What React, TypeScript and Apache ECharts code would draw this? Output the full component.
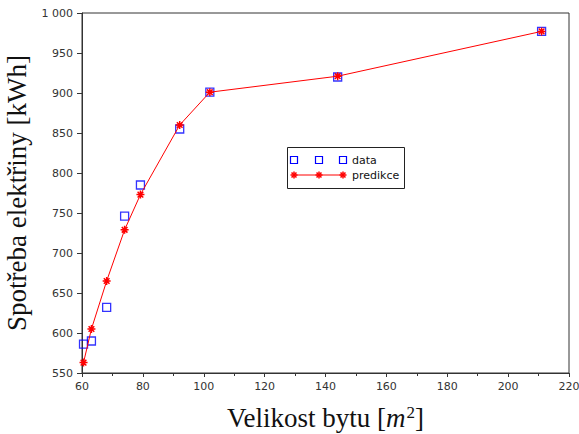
import React, { useEffect, useRef } from "react";
import * as echarts from "echarts";

const areaX = [60.5, 63.1, 68.1, 74.0, 79.2, 92.1, 102.0, 144.0, 211.0];
const dataY = [586, 590, 632, 746, 785, 855, 901, 920, 977];
const predY = [563, 605, 665, 729, 773, 860, 901, 921, 977];
const seriesNames = ["data", "predikce"];
const xTitle = "Velikost bytu";
const yTitle = "Spotřeba elektřiny [kWh]";

const STAR = "path://M0,-1L0,1M-1,0L1,0M-0.71,-0.71L0.71,0.71M-0.71,0.71L0.71,-0.71";

function starGraphic(cx: number, cy: number, r: number) {
  const d = r * 0.71;
  const segs = [
    [cx, cy - r, cx, cy + r],
    [cx - r, cy, cx + r, cy],
    [cx - d, cy - d, cx + d, cy + d],
    [cx - d, cy + d, cx + d, cy - d],
  ];
  return segs.map((s) => ({
    type: "line",
    shape: { x1: s[0], y1: s[1], x2: s[2], y2: s[3] },
    style: { stroke: "#ff0000", lineWidth: 1.5 },
  }));
}

export default function App() {
  const ref = useRef<HTMLDivElement>(null);
  useEffect(() => {
    if (!ref.current) return;
    document.body.style.margin = "0";
    const chart = echarts.init(ref.current, undefined, { renderer: "svg" });
    const legX = [294, 319, 343];
    const graphics: any[] = [
      {
        type: "rect",
        shape: { x: 287.5, y: 147.5, width: 117, height: 41 },
        style: { fill: "#fff", stroke: "#222", lineWidth: 1 },
      },
      ...legX.map((x) => ({
        type: "rect",
        shape: { x: x - 3.5, y: 156.5, width: 7, height: 7 },
        style: { fill: "none", stroke: "#0000ff", lineWidth: 1.2 },
      })),
      {
        type: "line",
        shape: { x1: 294, y1: 175, x2: 343, y2: 175 },
        style: { stroke: "#ff0000", lineWidth: 1 },
      },
      ...legX.flatMap((x) => starGraphic(x, 175, 3.5)),
      {
        type: "text",
        x: 352,
        y: 160,
        style: { text: seriesNames[0], font: "11px 'DejaVu Sans'", fill: "#111", verticalAlign: "middle" },
      },
      {
        type: "text",
        x: 352,
        y: 175,
        style: { text: seriesNames[1], font: "11px 'DejaVu Sans'", fill: "#111", verticalAlign: "middle" },
      },
    ];
    chart.setOption({
      animation: false,
      backgroundColor: "#fff",
      grid: {
        left: 82,
        right: 10,
        top: 13,
        bottom: 61,
        containLabel: false,
        outerBoundsMode: "none",
        show: true,
        borderColor: "#333",
        borderWidth: 1,
      },
      xAxis: {
        type: "value",
        min: 60,
        max: 220,
        interval: 20,
        name: "{t|" + xTitle + " [}{i|m}{s|2}{t|]}",
        nameLocation: "middle",
        nameGap: 31,
        nameTextStyle: {
          lineHeight: 27,
          rich: {
            t: { fontFamily: "Liberation Serif", fontSize: 27, lineHeight: 27, color: "#111" },
            i: { fontFamily: "Liberation Serif", fontStyle: "italic", fontSize: 27, lineHeight: 27, color: "#111" },
            s: { fontFamily: "Liberation Serif", fontSize: 17, lineHeight: 17, verticalAlign: "top", color: "#111", padding: [0, 0, 0, 1] },
          },
        },
        axisLine: { lineStyle: { color: "#333", width: 1 } },
        axisTick: { show: true, inside: false, length: 4, lineStyle: { color: "#333" } },
        minorTick: { show: true, splitNumber: 2, length: 3, lineStyle: { color: "#333" } },
        axisLabel: { fontFamily: "DejaVu Sans", fontSize: 11, color: "#333", margin: 8 },
        splitLine: { show: false },
      },
      yAxis: {
        type: "value",
        min: 550,
        max: 1000,
        interval: 50,
        name: yTitle,
        nameLocation: "middle",
        nameGap: 48,
        nameRotate: 90,
        nameTextStyle: { fontFamily: "Liberation Serif", fontSize: 27, color: "#111" },
        axisLine: { show: true, lineStyle: { color: "#333", width: 1 } },
        axisTick: { show: true, inside: false, length: 5, lineStyle: { color: "#333" } },
        axisLabel: {
          fontFamily: "DejaVu Sans",
          fontSize: 11,
          color: "#333",
          margin: 9,
          formatter: (v: number) => (v >= 1000 ? "1 000" : String(v)),
        },
        splitLine: { show: false },
      },
      series: [
        {
          name: seriesNames[0],
          type: "scatter",
          data: areaX.map((x, i) => [x, dataY[i]]),
          symbol: "rect",
          symbolSize: 8,
          itemStyle: { color: "rgba(0,0,0,0)", borderColor: "#0000ff", borderWidth: 1.3 },
          z: 2,
        },
        {
          name: seriesNames[1],
          type: "line",
          data: areaX.map((x, i) => [x, predY[i]]),
          symbol: STAR,
          symbolSize: 8,
          showAllSymbol: true,
          lineStyle: { color: "#ff0000", width: 1 },
          itemStyle: { color: "#ff0000", borderColor: "#ff0000", borderWidth: 1.5 },
          z: 3,
        },
      ],
      graphic: graphics,
    });
    return () => chart.dispose();
  }, []);
  return <div ref={ref} style={{ width: 579, height: 434 }} />;
}
